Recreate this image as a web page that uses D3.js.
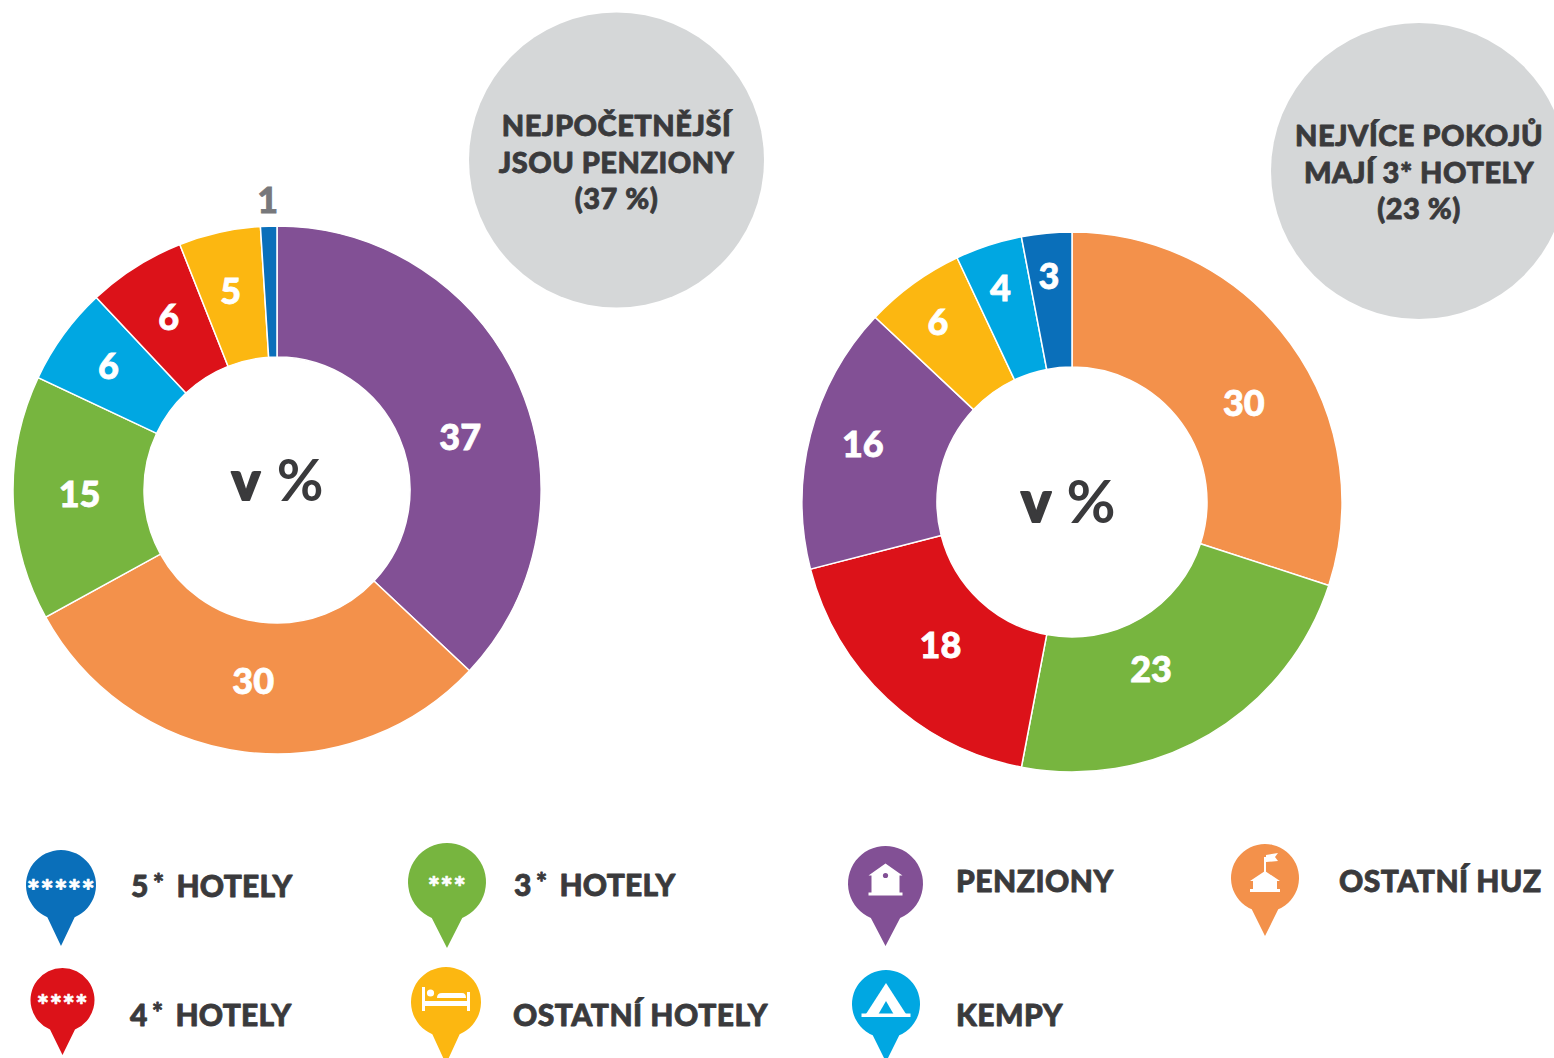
<!DOCTYPE html>
<html>
<head>
<meta charset="utf-8">
<script src="https://cdn.jsdelivr.net/npm/d3@7"></script>
<style>
    html, body { margin: 0; padding: 0; background: #fff; overflow: hidden; }
    text { font-family: Lato, "Open Sans", sans-serif; font-weight: 900; }
</style>
</head>
<body>
<div id="chart"></div>
<script>
(function(d3) {
    'use strict';

    // Data
    var categories = ['5* HOTELY', '4* HOTELY', '3* HOTELY', 'OSTATNÍ HOTELY', 'PENZIONY', 'KEMPY', 'OSTATNÍ HUZ'];
    var categoryColors = ['#0a6fba', '#dc1219', '#77b53f', '#fcb711', '#825095', '#00a7e2', '#f3914b'];

    var leftCategories = ['PENZIONY', 'OSTATNÍ HUZ', '3* HOTELY', 'KEMPY', '4* HOTELY', 'OSTATNÍ HOTELY', '5* HOTELY'];
    var leftValues = [37, 30, 15, 6, 6, 5, 1];
    var rightCategories = ['OSTATNÍ HUZ', '3* HOTELY', '4* HOTELY', 'PENZIONY', 'OSTATNÍ HOTELY', 'KEMPY', '5* HOTELY'];
    var rightValues = [30, 23, 18, 16, 6, 4, 3];

    var leftNote = ['NEJPOČETNĚJŠÍ', 'JSOU PENZIONY', '(37 %)'];
    var rightNote = ['NEJVÍCE POKOJŮ', 'MAJÍ 3* HOTELY', '(23 %)'];

    // Label nudges from the slice centroid
    var leftNudge = [[1, 26], [1, -6], [1, -2], [-8, -7], [-2, -5], [-3, -5], [-3, -92]];
    var rightNudge = [[8, 20], [-24, -7], [7, -5], [-13, -8], [-15, -16], [-9, -21], [-4, -24]];

    var width = 1554;
    var height = 1058;
    var darkText = '#3a3a3c';
    var grayBubble = '#d5d7d8';

    var color = d3.scaleOrdinal().domain(categories).range(categoryColors);

    var svg = d3.select('#chart')
        .append('svg')
        .attr('width', width)
        .attr('height', height)
        .style('display', 'block');

    var pie = d3.pie().sort(null);

    // Lato Black is lighter than the original face, so thicken it a bit
    function thicken(sel, fill, w) {
        return sel.attr('fill', fill)
            .attr('stroke', fill)
            .attr('stroke-width', w)
            .attr('stroke-linejoin', 'round');
    }

    function drawDonut(cx, cy, outer, inner, names, values, nudges, unit) {
        var arc = d3.arc().innerRadius(inner).outerRadius(outer);
        var g = svg.append('g').attr('transform', 'translate(' + cx + ',' + cy + ')');
        var slices = pie(values);

        g.selectAll('path')
            .data(slices)
            .enter()
            .append('path')
            .attr('d', arc)
            .attr('fill', function(d, i) { return color(names[i]); })
            .attr('stroke', '#fff')
            .attr('stroke-width', 1.5);

        g.selectAll('text.value')
            .data(slices)
            .enter()
            .append('text')
            .attr('class', 'value')
            .attr('transform', function(d, i) {
                var c = arc.centroid(d);
                return 'translate(' + (c[0] + nudges[i][0]) + ',' + (c[1] + nudges[i][1]) + ')';
            })
            .attr('text-anchor', 'middle')
            .attr('dy', '0.36em')
            .attr('font-size', 36)
            .attr('fill', function(d) { return d.value === 1 ? '#77787b' : '#fff'; })
            .attr('stroke', function(d) { return d.value === 1 ? '#77787b' : '#fff'; })
            .attr('stroke-width', 0.8)
            .text(function(d) { return d.value; });

        // Centre unit: heavy v, thin %
        thicken(g.append('text')
            .attr('x', unit.vx)
            .attr('y', unit.y)
            .attr('text-anchor', 'middle')
            .attr('font-size', 54 * unit.k)
            .text('v'), darkText, 2);
        g.append('text')
            .attr('x', unit.px)
            .attr('y', unit.y + 1)
            .attr('text-anchor', 'middle')
            .attr('font-size', 57 * unit.k)
            .style('font-weight', 700)
            .attr('fill', darkText)
            .text('%');
    }

    function drawNote(cx, cy, r, lines, firstY) {
        svg.append('circle')
            .attr('cx', cx)
            .attr('cy', cy)
            .attr('r', r)
            .attr('fill', grayBubble);
        thicken(svg.selectAll(null)
            .data(lines)
            .enter()
            .append('text')
            .attr('x', cx)
            .attr('y', function(d, i) { return firstY + i * 36.5; })
            .attr('text-anchor', 'middle')
            .attr('font-size', 29)
            .attr('letter-spacing', 0.5)
            .text(function(d) { return d; }), darkText, 0.8);
    }

    // Grey notes go under the donuts
    drawNote(616.5, 160, 147.5, leftNote, 136);
    drawNote(1419, 171, 148, rightNote, 146);

    drawDonut(277, 490, 264, 133, leftCategories, leftValues, leftNudge, { vx: -31, px: 23, y: 10, k: 1 });
    drawDonut(1072, 502, 270, 135, rightCategories, rightValues, rightNudge, { vx: -36, px: 19, y: 20, k: 1.05 });

    // Legend pins
    function pinPath(r, tip) {
        var p = d3.path();
        var a = Math.asin(0.39);
        p.moveTo(0, tip);
        p.lineTo(-r * 0.39, r * Math.cos(a));
        p.arc(0, 0, r, Math.PI / 2 + a, Math.PI / 2 - a + 2 * Math.PI);
        p.closePath();
        return p.toString();
    }

    function drawStars(g, count, size, dy, spacing) {
        thicken(g.append('text')
            .attr('y', dy)
            .attr('text-anchor', 'middle')
            .attr('font-size', size)
            .attr('letter-spacing', spacing)
            .text(d3.range(count).map(function() { return '*'; }).join('')), '#fff', 0.6);
    }

    function drawBed(g) {
        g.append('path')
            .attr('fill', '#fff')
            .attr('d', 'M-24,-15h3v14h42v-9h3v19h-3v-5h-42v5h-3z');
        g.append('circle').attr('cx', -15.5).attr('cy', -9).attr('r', 3.6).attr('fill', '#fff');
        g.append('path').attr('fill', '#fff').attr('d', 'M-9,-4q0,-5 5,-5h20q4,0 4,5z');
    }

    function drawHouse(g, color) {
        g.append('path')
            .attr('fill', '#fff')
            .attr('d', 'M0,-20L17,-8h-3v17h3v3h-34v-3h3v-17h-3z');
        g.append('circle').attr('cy', -8).attr('r', 2.6).attr('fill', color);
    }

    function drawLodge(g) {
        g.append('path')
            .attr('fill', '#fff')
            .attr('d', 'M0,-7L15,3h-3v8h3v3h-30v-3h3v-8h-3z');
        g.append('rect').attr('x', -1).attr('y', -21).attr('width', 2).attr('height', 15).attr('fill', '#fff');
        g.append('path').attr('fill', '#fff').attr('d', 'M1,-23l12,-2l-3,4l3,4l-12,1z');
    }

    function drawTent(g, color) {
        g.append('path')
            .attr('fill', '#fff')
            .attr('d', 'M0,-21L20,10h-40z');
        g.append('path').attr('fill', color).attr('d', 'M0,-3L7.5,10h-15z');
        g.append('rect').attr('x', -24.5).attr('y', 9.5).attr('width', 49).attr('height', 3.5).attr('fill', '#fff');
    }

    var pinR = [35, 32, 39, 35, 37.5, 34, 34];
    var pinX = [61, 62.5, 447, 446, 885.5, 886, 1265];
    var pinY = [885, 1000, 882, 1002, 883.5, 1004, 878];
    var pinTip = [61, 55, 66, 62, 62.5, 58, 58];
    var labelX = [131, 130, 514, 513, 956, 956, 1339];
    var labelY = [897, 1026, 896, 1026, 892, 1026, 892];

    categories.forEach(function(name, i) {
        var g = svg.append('g').attr('transform', 'translate(' + pinX[i] + ',' + pinY[i] + ')');
        g.append('path').attr('d', pinPath(pinR[i], pinTip[i])).attr('fill', color(name));

        if (i === 0) drawStars(g, 5, 31, 17, 0.5);
        if (i === 1) drawStars(g, 4, 29, 15, 0.5);
        if (i === 2) drawStars(g, 3, 29, 15, 0.5);
        if (i === 3) drawBed(g);
        if (i === 4) drawHouse(g, color(name));
        if (i === 5) drawTent(g, color(name));
        if (i === 6) drawLodge(g);

        var star = name.indexOf('*');
        var label = thicken(svg.append('text')
            .attr('x', labelX[i])
            .attr('y', labelY[i])
            .attr('font-size', 30)
            .attr('letter-spacing', 0.5), darkText, 0.8);
        if (star > 0) {
            label.append('tspan').text(name.slice(0, star));
            label.append('tspan').attr('font-size', 26).attr('dx', 4).attr('dy', -4).text('*');
            label.append('tspan').attr('dx', 12).attr('dy', 4).attr('letter-spacing', 0.2).text(name.slice(star + 1).trim());
        } else {
            label.text(name);
        }
    });

})(window.d3);
</script>
</body>
</html>
